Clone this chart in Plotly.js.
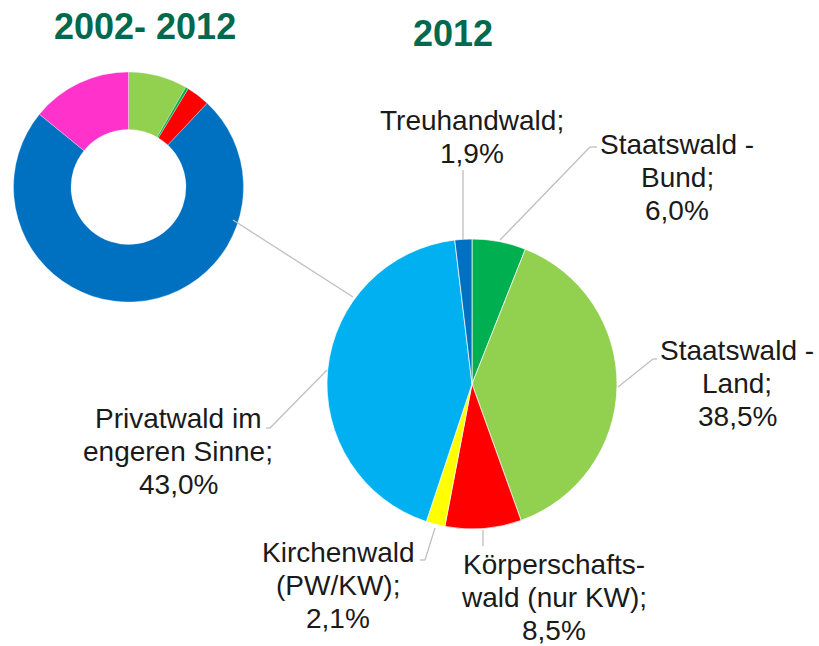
<!DOCTYPE html>
<html>
<head>
<meta charset="utf-8">
<script src="https://cdn.plot.ly/plotly-3.0.1.min.js"></script>
<style>html,body{margin:0;padding:0;background:#fff;}#chart{width:819px;height:646px;}</style>
</head>
<body>
<div id="chart"></div>
<script>
// Main pie (2012), clockwise from 12 o'clock
const mainCategories = ["Staatswald - Bund", "Staatswald - Land", "Körperschaftswald (nur KW)", "Kirchenwald (PW/KW)", "Privatwald im engeren Sinne", "Treuhandwald"];
const mainLabelLines = [["Staatswald -", "Bund;"], ["Staatswald -", "Land;"], ["Körperschafts-", "wald (nur KW);"], ["Kirchenwald", "(PW/KW);"], ["Privatwald im", "engeren Sinne;"], ["Treuhandwald;"]];
const mainValues = [6.0, 38.5, 8.5, 2.1, 43.0, 1.9];
const mainColors = ["#00B050", "#92D050", "#FF0000", "#FFFF00", "#00B0F0", "#0070C0"];

// Donut (2002-2012)
const donutCategories = ["Staatswald - Land", "Staatswald - Bund", "Körperschaftswald", "Privatwald", "Sonstige"];
const donutValues = [8.3, 0.4, 3.3, 73.9, 14.1];
const donutColors = ["#92D050", "#00B050", "#FF0000", "#0070C0", "#FF33CC"];

const titles = ["2002- 2012", "2012"];

const W = 819, H = 646;
const px = x => x / W, py = y => 1 - y / H;

// label first-line centres (pixel), line pitch, and leader polylines
const labelPos = [[677, 144], [737, 350], [554, 564], [338, 552], [178, 418], [472, 121]];
const linePitch = 33;
const leaders = [
  [[500, 240], [590, 147], [597, 147]],
  [[618, 387], [653, 359], [657, 359]],
  [[483, 530], [483, 546]],
  [[435, 528], [425, 560], [420, 560]],
  [[327, 370], [270, 428], [266, 428]],
  [[463, 240], [463, 170]]
];
const fmt = v => v.toFixed(1).replace('.', ',') + '%';

const titleFont = {family: "Liberation Sans, Arial, sans-serif", size: 36, color: "#00694E", weight: 'bold'};
const annotations = [
  {text: titles[0], x: px(145), y: py(26), xref: 'paper', yref: 'paper', xanchor: 'center', yanchor: 'middle', showarrow: false, font: titleFont},
  {text: titles[1], x: px(453), y: py(33), xref: 'paper', yref: 'paper', xanchor: 'center', yanchor: 'middle', showarrow: false, font: titleFont}
];
mainCategories.forEach((c, i) => {
  const lines = mainLabelLines[i].concat([fmt(mainValues[i])]);
  lines.forEach((t, k) => {
    annotations.push({
      text: t, x: px(labelPos[i][0]), y: py(labelPos[i][1] + k * linePitch),
      xref: 'paper', yref: 'paper', xanchor: 'center', yanchor: 'middle',
      showarrow: false, align: 'center',
      font: {family: "Liberation Sans, Arial, sans-serif", size: 28, color: "#1a1a1a"}
    });
  });
});

const shapes = [];
const lineStyle = {color: "#BFBFBF", width: 1.3};
leaders.forEach(pts => {
  for (let k = 0; k < pts.length - 1; k++) {
    shapes.push({type: 'line', xref: 'paper', yref: 'paper',
      x0: px(pts[k][0]), y0: py(pts[k][1]), x1: px(pts[k+1][0]), y1: py(pts[k+1][1]), line: lineStyle});
  }
});
// connector between donut and pie
shapes.push({type: 'line', xref: 'paper', yref: 'paper', x0: px(233), y0: py(220), x1: px(353), y1: py(297), line: lineStyle, layer: 'above'});

const data = [
  {type: 'pie', labels: mainCategories, values: mainValues, sort: false, direction: 'clockwise', rotation: 0,
   marker: {colors: mainColors, line: {color: "rgba(255,255,255,0.7)", width: 1}},
   textinfo: 'none', hoverinfo: 'label+value', showlegend: false,
   domain: {x: [px(327), px(617)], y: [py(529), py(239)]}},
  {type: 'pie', labels: donutCategories, values: donutValues, sort: false, direction: 'clockwise', rotation: 0, hole: 0.5,
   marker: {colors: donutColors, line: {color: "rgba(255,255,255,0.6)", width: 0.5}},
   textinfo: 'none', hoverinfo: 'label+value', showlegend: false,
   domain: {x: [px(13.5), px(243.5)], y: [py(302), py(72)]}}
];

const layout = {
  width: W, height: H, margin: {l: 0, r: 0, t: 0, b: 0},
  paper_bgcolor: '#fff', plot_bgcolor: '#fff', showlegend: false,
  annotations: annotations, shapes: shapes
};
Plotly.newPlot('chart', data, layout, {displayModeBar: false, staticPlot: true});
</script>
</body>
</html>
